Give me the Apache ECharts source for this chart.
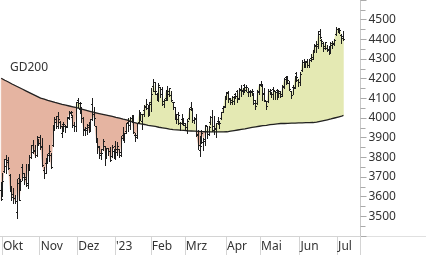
<!DOCTYPE html>
<html><head><meta charset="utf-8">
<script src="https://cdn.jsdelivr.net/npm/echarts@6/dist/echarts.min.js"></script>
<style>html,body{margin:0;padding:0;background:#fff}#c{width:426px;height:255px}</style>
</head><body><div id="c"></div><script>
// Trading days (S&P 500 style daily bars)
const dates = [
'2022-09-30',
'2022-10-03','2022-10-04','2022-10-05','2022-10-06','2022-10-07','2022-10-10','2022-10-11','2022-10-12','2022-10-13','2022-10-14','2022-10-17','2022-10-18','2022-10-19','2022-10-20','2022-10-21','2022-10-24','2022-10-25','2022-10-26','2022-10-27','2022-10-28','2022-10-31',
'2022-11-01','2022-11-02','2022-11-03','2022-11-04','2022-11-07','2022-11-08','2022-11-09','2022-11-10','2022-11-11','2022-11-14','2022-11-15','2022-11-16','2022-11-17','2022-11-18','2022-11-21','2022-11-22','2022-11-23','2022-11-25','2022-11-28','2022-11-29','2022-11-30',
'2022-12-01','2022-12-02','2022-12-05','2022-12-06','2022-12-07','2022-12-08','2022-12-09','2022-12-12','2022-12-13','2022-12-14','2022-12-15','2022-12-16','2022-12-19','2022-12-20','2022-12-21','2022-12-22','2022-12-23','2022-12-27','2022-12-28','2022-12-29','2022-12-30',
'2023-01-03','2023-01-04','2023-01-05','2023-01-06','2023-01-09','2023-01-10','2023-01-11','2023-01-12','2023-01-13','2023-01-17','2023-01-18','2023-01-19','2023-01-20','2023-01-23','2023-01-24','2023-01-25','2023-01-26','2023-01-27','2023-01-30','2023-01-31',
'2023-02-01','2023-02-02','2023-02-03','2023-02-06','2023-02-07','2023-02-08','2023-02-09','2023-02-10','2023-02-13','2023-02-14','2023-02-15','2023-02-16','2023-02-17','2023-02-21','2023-02-22','2023-02-23','2023-02-24','2023-02-27','2023-02-28',
'2023-03-01','2023-03-02','2023-03-03','2023-03-06','2023-03-07','2023-03-08','2023-03-09','2023-03-10','2023-03-13','2023-03-14','2023-03-15','2023-03-16','2023-03-17','2023-03-20','2023-03-21','2023-03-22','2023-03-23','2023-03-24','2023-03-27','2023-03-28','2023-03-29','2023-03-30','2023-03-31',
'2023-04-03','2023-04-04','2023-04-05','2023-04-06','2023-04-10','2023-04-11','2023-04-12','2023-04-13','2023-04-14','2023-04-17','2023-04-18','2023-04-19','2023-04-20','2023-04-21','2023-04-24','2023-04-25','2023-04-26','2023-04-27','2023-04-28',
'2023-05-01','2023-05-02','2023-05-03','2023-05-04','2023-05-05','2023-05-08','2023-05-09','2023-05-10','2023-05-11','2023-05-12','2023-05-15','2023-05-16','2023-05-17','2023-05-18','2023-05-19','2023-05-22','2023-05-23','2023-05-24','2023-05-25','2023-05-26','2023-05-30','2023-05-31',
'2023-06-01','2023-06-02','2023-06-05','2023-06-06','2023-06-07','2023-06-08','2023-06-09','2023-06-12','2023-06-13','2023-06-14','2023-06-15','2023-06-16','2023-06-20','2023-06-21','2023-06-22','2023-06-23','2023-06-26','2023-06-27','2023-06-28','2023-06-29','2023-06-30',
'2023-07-03','2023-07-05','2023-07-06','2023-07-07'
];
const openVals = [3633,
3609,3726,3753,3772,3707,3647,3595,3590,3520,3690,3638,3746,3696,3689,3657,3762,3799,3825,3834,3808,3881,
3901,3852,3734,3767,3780,3817,3810,3859,3964,3978,4007,3977,3920,3966,3956,3957,4000,4024,4005,3964,3957,
4087,4041,4053,3996,3934,3947,3954,3940,4069,4016,3958,3890,3853,3811,3839,3853,3815,3843,3829,3805,3830,
3853,3840,3840,3823,3910,3888,3932,3977,3960,3999,4003,3912,3910,3979,4002,3982,4036,4054,4049,4020,
4070,4158,4137,4119,4106,4154,4144,4068,4097,4127,4119,4114,4077,4052,4002,4018,3973,3993,3977,
3964,3938,3998,4055,4049,3988,3999,3912,3835,3895,3876,3878,3959,3917,3975,4003,3959,3939,3982,3975,3999,4047,4056,
4102,4130,4094,4081,4085,4121,4134,4100,4140,4137,4164,4140,4131,4133,4132,4127,4088,4075,4129,
4166,4164,4123,4082,4084,4137,4125,4143,4133,4139,4127,4127,4122,4157,4204,4191,4177,4133,4156,4156,4226,4190,
4183,4241,4282,4271,4285,4268,4304,4308,4345,4366,4366,4440,4396,4380,4355,4354,4344,4338,4367,4375,4423,
4450,4443,4422,4405];
const highVals = [3672,
3718,3791,3807,3798,3711,3653,3641,3608,3685,3712,3689,3762,3719,3764,3757,3810,3862,3887,3859,3905,3893,
3911,3894,3750,3796,3814,3859,3819,3958,4001,4009,4029,3983,3955,3979,3962,4005,4034,4035,4012,3977,4080,
4101,4080,4053,4002,3951,3966,3977,3991,4101,4053,3959,3890,3854,3839,3889,3853,3846,3846,3849,3858,3840,
3878,3873,3840,3906,3951,3920,3970,3997,4003,4015,4015,3922,3973,4040,4030,4020,4062,4095,4063,4077,
4149,4195,4183,4124,4176,4156,4157,4094,4139,4159,4149,4136,4081,4052,4017,4029,3978,4018,3997,
3972,3990,4049,4079,4050,4001,4017,3935,3905,3937,3894,3964,3959,3956,4010,4040,4007,3973,4004,3980,4030,4057,4110,
4128,4133,4100,4108,4109,4125,4138,4150,4164,4152,4170,4163,4148,4138,4143,4127,4089,4138,4170,
4186,4164,4149,4083,4147,4143,4131,4154,4133,4143,4142,4136,4165,4202,4213,4210,4186,4136,4166,4212,4231,4195,
4232,4291,4300,4288,4299,4298,4322,4340,4375,4391,4439,4449,4400,4386,4382,4367,4363,4384,4390,4398,4458,
4456,4454,4423,4440];
const lowVals = [3584,
3604,3726,3722,3744,3632,3588,3568,3571,3492,3584,3638,3686,3667,3657,3647,3736,3799,3824,3803,3809,3863,
3843,3758,3698,3721,3774,3786,3749,3859,3944,3950,3953,3954,3907,3936,3933,3956,3999,4020,3955,3937,3938,
4058,4026,3984,3918,3916,3923,3933,3935,3994,3966,3879,3827,3800,3796,3839,3765,3798,3813,3783,3805,3801,
3794,3815,3802,3809,3890,3878,3924,3937,3947,3984,3926,3885,3900,3977,3990,3949,4013,4048,4015,4020,
4037,4141,4124,4094,4089,4111,4070,4061,4092,4095,4113,4089,4048,3996,3976,3971,3944,3973,3968,
3940,3928,3998,4044,3980,3975,3909,3847,3809,3874,3838,3864,3901,3917,3971,3936,3920,3908,3970,3952,3999,4032,4056,
4101,4086,4073,4076,4073,4102,4086,4100,4114,4124,4135,4140,4114,4113,4117,4072,4049,4075,4127,
4164,4095,4088,4048,4084,4124,4110,4099,4099,4099,4110,4110,4113,4154,4176,4180,4145,4105,4126,4155,4193,4166,
4171,4241,4262,4261,4263,4261,4293,4304,4338,4337,4360,4407,4367,4345,4352,4341,4328,4336,4360,4372,4423,
4442,4436,4385,4398];
const closeVals = [3586,
3678,3791,3783,3745,3640,3612,3589,3577,3669,3583,3677,3720,3695,3666,3752,3797,3859,3830,3807,3901,3872,
3856,3759,3720,3771,3807,3828,3749,3956,3993,3957,3992,3959,3947,3965,3950,4003,4028,4026,3964,3958,4080,
4076,4072,3999,3941,3934,3963,3934,3990,4019,3996,3896,3852,3817,3821,3879,3822,3845,3829,3783,3849,3840,
3825,3853,3808,3895,3893,3919,3970,3983,3999,3991,3928,3899,3973,4020,4017,4016,4060,4071,4018,4077,
4119,4180,4136,4111,4164,4118,4082,4090,4137,4136,4148,4090,4079,3997,3991,4012,3970,3982,3970,
3951,3981,4045,4048,3986,3992,3918,3862,3855,3920,3892,3960,3917,3951,4003,3937,3948,3971,3977,3971,4027,4051,4109,
4124,4100,4090,4105,4109,4108,4092,4146,4138,4151,4154,4155,4130,4133,4137,4072,4056,4135,4169,
4168,4119,4091,4061,4136,4138,4119,4138,4130,4124,4136,4110,4159,4198,4192,4192,4146,4116,4151,4205,4206,4180,
4221,4282,4273,4284,4268,4294,4299,4338,4369,4373,4426,4410,4389,4366,4382,4348,4328,4378,4377,4396,4450,
4455,4446,4412,4399];
const gd200 = [
4202,4197,4192,4188,4183,4178,4173,4169,4164,4159,4155,4150,4146,4141,4137,4132,4128,4123,4119,4115,
4110,4106,4101,4098,4096,4093,4090,4088,4085,4082,4079,4077,4074,4071,4069,4067,4065,4063,4061,4059,
4057,4055,4053,4050,4048,4045,4043,4040,4038,4035,4033,4030,4028,4026,4024,4022,4020,4018,4016,4014,
4012,4010,4008,4006,4003,4001,3999,3997,3994,3992,3990,3987,3984,3981,3978,3975,3973,3972,3970,3968,
3967,3965,3963,3962,3960,3958,3957,3955,3953,3952,3950,3948,3947,3945,3943,3942,3941,3941,3940,3939,
3938,3938,3937,3936,3935,3935,3934,3934,3933,3933,3932,3932,3931,3931,3930,3930,3929,3929,3929,3929,
3929,3929,3929,3929,3929,3929,3930,3932,3933,3935,3936,3937,3939,3940,3942,3944,3945,3947,3949,3950,
3952,3954,3955,3957,3958,3960,3961,3962,3963,3964,3966,3967,3968,3969,3970,3971,3972,3972,3972,3973,
3973,3973,3974,3974,3974,3975,3975,3975,3975,3976,3976,3976,3976,3977,3977,3977,3979,3981,3983,3985,
3987,3989,3991,3993,3995,3998,4000,4003,4005,4008,4010,4013];
const monthKeys = ['2022-10','2022-11','2022-12','2023-01','2023-02','2023-03','2023-04','2023-05','2023-06','2023-07'];
const monthNames = ['Okt','Nov','Dez',"'23",'Feb','Mrz','Apr','Mai','Jun','Jul'];
const yTicks = [3500,3600,3700,3800,3900,4000,4100,4200,4300,4400,4500];
const padDays = ['p1','p2','p3','p4','p5','p6','p7','p8','p9'];

const cats = dates.concat(padDays);
const n = dates.length;
function isMonthStart(i){
  if (i <= 0 || i >= n) return false;
  return dates[i].slice(0,7) !== dates[i-1].slice(0,7);
}
const ohlcRows = dates.map((d,i)=>[i, openVals[i], highVals[i], lowVals[i], closeVals[i]]);
const fillRows = dates.map((d,i)=>[i, closeVals[i], gd200[i]]);

const RED = '#e5b4a1', GREEN = '#e4e9b3';
const chart = echarts.init(document.getElementById('c'), null, {renderer:'canvas'});
chart.setOption({
  animation:false,
  backgroundColor:'#fff',
  grid:{left:-0.8, right:65.5, top:-2, bottom:19, containLabel:false},
  xAxis:{
    type:'category', data:cats, boundaryGap:true,
    axisLine:{show:true, lineStyle:{color:'#d4d4d4', width:1}},
    axisTick:{show:true, length:19, interval:(i)=>isMonthStart(i), lineStyle:{color:'#d4d4d4'}},
    axisLabel:{show:true, interval:(i)=>isMonthStart(i), align:'left', margin:5,
      fontSize:12, fontFamily:'"Noto Sans"', color:'#333',
      formatter:(v)=>{const k=monthKeys.indexOf(String(v).slice(0,7)); return k>=0?monthNames[k]:'';}},
    splitLine:{show:false}
  },
  yAxis:{
    type:'value', position:'right', min:3400, max:4600, interval:100,
    axisLine:{show:true, lineStyle:{color:'#c8c8c8'}},
    axisTick:{show:true, length:6, lineStyle:{color:'#aaa'}},
    minorTick:{show:true, splitNumber:2, length:5, lineStyle:{color:'#aaa'}},
    splitLine:{show:false},
    axisLabel:{margin:8, fontSize:12, fontFamily:'"Noto Sans"', color:'#333',
      formatter:(v)=> yTicks.indexOf(v)>=0 ? String(v) : ''}
  },
  graphic:[
    {type:'line', silent:true, shape:{x1:360.5,y1:236.5,x2:426,y2:236.5}, style:{stroke:'#e0e0e0', lineWidth:1}},
    {type:'line', silent:true, shape:{x1:360.5,y1:236,x2:360.5,y2:255}, style:{stroke:'#d4d4d4', lineWidth:1}},
    {type:'text', silent:true, left:10, top:62, style:{text:'GD200', font:'12px "Noto Sans"', fill:'#333'}}
  ],
  series:[
    {
      // area between close and GD200, drawn as merged runs (one render pass on the first item)
      type:'custom', name:'fill', data:fillRows, encode:{x:0, y:1}, z:1, silent:true, clip:true,
      renderItem:function(params, api){
        if (params.dataIndex !== 0) return {type:'group', children:[]};
        const C = [], G = [], D = [];
        for (let i=0;i<n;i++){
          C.push(api.coord([i, closeVals[i]]));
          G.push(api.coord([i, gd200[i]]));
          D.push(closeVals[i] - gd200[i]);
        }
        const polys = [];
        let sign = D[0] >= 0 ? 1 : -1;
        let top = [C[0]], bot = [G[0]];
        for (let i=1;i<n;i++){
          const s = D[i] > 0 ? 1 : (D[i] < 0 ? -1 : sign);
          if (s === sign){
            top.push(C[i]); bot.push(G[i]);
          } else {
            const t = D[i-1] / (D[i-1] - D[i]);
            const X = [G[i-1][0] + t*(G[i][0]-G[i-1][0]), G[i-1][1] + t*(G[i][1]-G[i-1][1])];
            top.push(X);
            polys.push({pts: top.concat(bot.slice().reverse()), s: sign});
            top = [X, C[i]]; bot = [G[i]];
            sign = s;
          }
        }
        polys.push({pts: top.concat(bot.slice().reverse()), s: sign});
        return {type:'group', children: polys.map(p => ({
          type:'polygon', shape:{points:p.pts},
          style:{fill: p.s > 0 ? GREEN : RED, stroke: p.s > 0 ? GREEN : RED, lineWidth:0.5}
        }))};
      }
    },
    {
      type:'line', name:'GD200', data:gd200, showSymbol:false, symbol:'none', z:2, silent:true,
      lineStyle:{color:'#222', width:1.3}
    },
    {
      type:'custom', name:'bars', data:ohlcRows, encode:{x:0, y:[1,2,3,4]}, z:3, silent:true, clip:true,
      renderItem:function(params, api){
        const i = api.value(0);
        const po = api.coord([i, api.value(1)]);
        const ph = api.coord([i, api.value(2)]);
        const pl = api.coord([i, api.value(3)]);
        const pc = api.coord([i, api.value(4)]);
        const x = Math.floor(ph[0]) + 0.5;
        const st = {stroke:'#1e1e1e', lineWidth:1};
        const yo = Math.floor(po[1]) + 0.5, yc = Math.floor(pc[1]) + 0.5;
        return {type:'group', children:[
          {type:'line', shape:{x1:x, y1:Math.floor(ph[1]), x2:x, y2:Math.ceil(pl[1])+1}, style:st},
          {type:'line', shape:{x1:x-1.5, y1:yo, x2:x, y2:yo}, style:st},
          {type:'line', shape:{x1:x, y1:yc, x2:x+1.5, y2:yc}, style:st}
        ]};
      }
    }
  ]
});
</script></body></html>
